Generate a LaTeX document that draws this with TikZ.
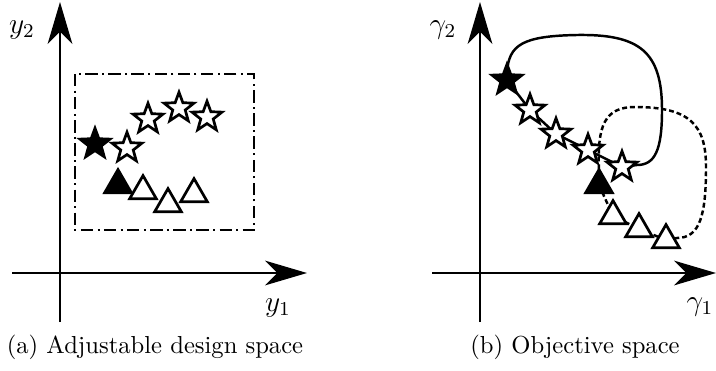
\documentclass[tikz,border=0pt]{standalone}
\usetikzlibrary{arrows.meta,shapes.geometric,backgrounds}
\begin{document}
\begin{tikzpicture}[x=0.4065pt,y=-0.4065pt,
  axis/.style={line width=1.2pt,-{Stealth[length=17pt,width=10pt,inset=5pt]}},
  starmark/.style={star,star points=5,star point ratio=2.4,draw,line width=1.1pt,fill=white,minimum size=12.8pt,inner sep=0pt},
  fstar/.style={starmark,fill=black},
  trimark/.style={regular polygon,regular polygon sides=3,draw,line width=1.1pt,fill=white,minimum size=12.5pt,inner sep=0pt},
  ftri/.style={trimark,fill=black},
  link/.style={line width=1pt},
  dlink/.style={line width=1pt,dash pattern=on 2pt off 1.2pt},
  dashdotbox/.style={line width=0.9pt,dash pattern=on 5pt off 1.8pt on 0.8pt off 1.8pt},
  lbl/.style={font=\large}]
\useasboundingbox (0,0) rectangle (716,370);

% ---------- left panel ----------
\coordinate (ya0) at (60,322);
\coordinate (ya1) at (60,2);
\coordinate (xa0) at (12,273);
\coordinate (xa1) at (307,273);
\draw[axis] (ya0) -- (ya1);
\draw[axis] (xa0) -- (xa1);
\node[lbl] (ly2) at (22,30) {$y_2$};
\node[lbl] (ly1) at (278,308) {$y_1$};

\coordinate (r0) at (75,74);
\coordinate (r1) at (254,230);
\draw[dashdotbox] (r0) rectangle (r1);

\node[fstar] (fsA) at (95,144) {};
\node[starmark] (sA1) at (127,148) {};
\node[starmark] (sA2) at (148,119) {};
\node[starmark] (sA3) at (179,108) {};
\node[starmark] (sA4) at (207,117) {};

\node[ftri] (ftA) at (118,185) {};
\node[trimark] (tA1) at (143,191) {};
\node[trimark] (tA2) at (168,204) {};
\node[trimark] (tA3) at (194,194) {};

\node[anchor=base] (capa) at (155,353) {(a) Adjustable design space};

% ---------- right panel ----------
\coordinate (yb0) at (480,322);
\coordinate (yb1) at (480,2);
\coordinate (xb0) at (432,273);
\coordinate (xb1) at (716,273);
\draw[axis] (yb0) -- (yb1);
\draw[axis] (xb0) -- (xb1);
\node[lbl] (lg2) at (443,30) {$\gamma_2$};
\node[lbl] (lg1) at (700,307) {$\gamma_1$};

\node[fstar] (fsB) at (507,80) {};
\node[starmark] (sB1) at (530,110) {};
\node[starmark] (sB2) at (556,134) {};
\node[starmark] (sB3) at (588,150) {};
\node[starmark] (sB4) at (622,167) {};

\node[ftri] (ftB) at (599,185) {};
\node[trimark] (tB1) at (613,216) {};
\node[trimark] (tB2) at (639,229) {};
\node[trimark] (tB3) at (666,240) {};

\begin{scope}[on background layer]
  \draw[link] (fsB.center) -- (507,72)
     .. controls (509,45) and (522,36) .. (577,35)
     .. controls (640,34) and (662,52) .. (662,110)
     .. controls (662,150) and (655,165) .. (637,165) -- (sB4.center);
  \draw[dlink] (ftB.center) -- (599,170)
     .. controls (597,125) and (605,107) .. (635,107)
     .. controls (690,107) and (706,125) .. (706,167)
     .. controls (706,215) and (700,238) .. (677,238) -- (tB3.center);
  \draw[link] (fsB.center) -- (sB1.center) -- (sB2.center) -- (sB3.center) -- (sB4.center);
  \draw[dlink] (ftB.center) -- (tB1.center) -- (tB2.center) -- (tB3.center);
\end{scope}

\node[anchor=base] (capb) at (575,353) {(b) Objective space};
\end{tikzpicture}
\end{document}
